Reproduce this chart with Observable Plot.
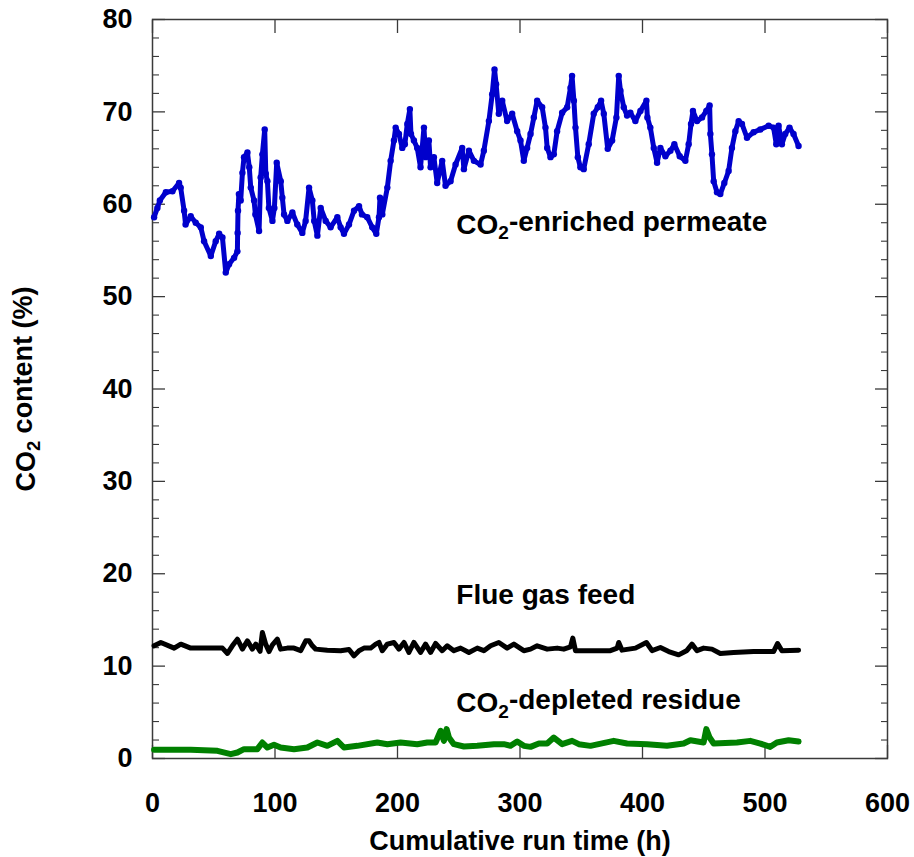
<!DOCTYPE html>
<html>
<head>
<meta charset="utf-8">
<script src="https://cdn.jsdelivr.net/npm/d3@7"></script>
<script src="https://cdn.jsdelivr.net/npm/@observablehq/plot@0.6"></script>
<style>
  html, body { margin: 0; padding: 0; background: #fff; }
  svg { display: block; }
</style>
</head>
<body>
<div id="chart"></div>
<script>
// ---- Data ----
// CO2-enriched permeate (blue dots)
const permX = [1.3,4,6,10.9,16.3,21.7,23,25.8,27,31.2,35.3,39.4,42.1,47.6,51.6,54.4,57.1,59.8,62.5,66.6,69.3,69.5,69.8,70.5,72,73.4,74.7,77.5,79,80.2,82.9,84,87,88.3,89.7,91.6,92.5,93.8,95,97.9,99.5,101.4,104.7,106,107.4,110.1,114.2,118.2,122.3,125,127.8,130.5,132,134.6,137.3,141.4,145.4,150.9,153.6,156.3,160.4,164.5,168.6,171,175.3,179.4,182.7,184.9,185.7,187.6,191.7,194.4,197.1,198.5,201.2,203.9,206,208,210.1,211,213.4,216.1,218.8,221.6,223,225.6,227,229.7,232.4,236.5,239.2,243.3,247.4,252.8,254.2,258.3,262.4,267.8,270.5,274.6,277.3,279.2,280.5,282.7,285.5,289.5,293.6,297.7,300.4,303.1,305.8,308.6,311.3,314,318.1,320.8,322.2,324.9,327.6,330.3,334.4,338.5,341.2,342.5,344,345.3,347.2,349.3,352,356.1,360.2,363.5,366.2,368.4,371.6,375.2,378.7,380.6,382,384.7,387.4,390.1,394.2,398.3,403.2,404,406.4,409.2,411.9,414.6,418.7,422.8,426,430.4,435,437.7,439.6,441.2,444.5,448.6,452.1,454.8,455.4,456.7,458.1,460.8,463.5,466.8,470.3,473,475.8,478.5,481.2,485.3,490.7,496.2,503,507,509.2,511.1,513.8,516.5,520,523.3,527.4];
const permY = [58.6,59.6,60.4,61.3,61.4,62.3,61.8,59.3,57.8,58.7,58.0,57.5,56.0,54.4,56.0,56.8,56.4,52.6,53.5,54.2,54.9,56.9,59.3,61.1,60.4,63.4,65.1,65.6,64.0,61.8,60.4,58.9,57.1,62.9,65.4,68.1,63.3,62.5,59.6,58.2,59.6,64.5,62.5,60.7,58.9,58.2,59.1,57.8,56.9,58.2,61.8,60.4,58.2,56.6,59.6,58.2,57.5,58.6,57.5,56.8,57.8,59.3,59.8,58.9,58.6,57.5,56.8,58.6,60.7,58.9,61.8,64.7,66.9,68.3,67.6,66.1,66.5,68.7,70.3,67.6,66.9,66.1,64.0,68.3,65.1,66.9,64.0,65.1,62.3,64.7,62.0,62.5,64.3,66.1,63.8,65.8,64.7,64.3,65.8,69.0,71.9,74.6,73.0,69.8,71.2,69.0,69.8,67.9,66.9,64.7,66.1,67.6,69.4,71.2,70.5,68.3,66.1,65.1,65.4,67.9,69.9,70.5,72.6,73.9,71.2,68.3,65.1,64.0,63.8,66.5,69.8,70.5,71.2,69.8,66.0,66.9,69.4,73.9,72.3,70.5,69.6,69.9,69.0,70.1,71.2,69.4,68.3,66.1,64.5,66.1,65.2,65.8,66.5,65.2,64.7,66.5,68.7,70.1,69.0,69.4,70.1,70.7,67.6,65.4,62.5,61.3,61.1,62.3,63.6,66.1,67.9,69.0,68.7,67.2,67.8,68.1,68.5,68.3,66.5,68.5,66.5,67.6,68.3,67.6,66.3];

// Flue gas feed (black)
const flueX = [1.3,6.8,17.7,23.1,31.2,44.8,57.1,61.2,65.2,69.3,73.4,77.5,81.5,84.3,87.8,89.7,92.4,95.1,97.9,101.9,104.6,110.1,115.5,121.0,125.1,127.8,130.5,133.2,142.7,153.6,160.4,164.5,168.6,172.6,178.1,182.2,184.9,187.6,191.7,197.1,201.2,205.3,209.3,213.4,218.8,222.9,227.0,231.1,236.5,240.6,246.0,251.5,258.3,265.1,270.5,276.0,282.7,289.5,295.0,303.1,308.6,314,322.2,330.3,335.7,341.2,343.1,345.3,354.8,365.7,373.8,379.3,380.6,383.3,394.2,403.2,407.8,414.6,421.4,429.5,436.3,440.4,444.5,449.9,456.7,463.5,474.4,490.7,507.0,510.3,513.8,527.4];
const flueY = [12.2,12.56,11.95,12.38,11.95,11.95,11.95,11.37,12.2,12.92,11.84,12.74,11.84,12.38,11.6,13.64,12.38,11.58,12.3,12.92,11.84,11.95,11.95,11.67,12.74,12.74,12.2,11.84,11.73,11.67,11.8,11.11,11.67,11.95,11.95,12.38,12.56,11.67,12.38,12.56,11.84,12.56,11.48,12.56,11.48,12.38,11.48,12.45,11.67,12.2,11.67,11.95,11.48,11.95,11.67,12.2,12.56,11.95,12.38,11.67,11.84,12.2,11.84,11.95,11.84,12.09,13.03,11.67,11.67,11.67,11.67,11.95,12.56,11.73,11.95,12.56,11.67,12.02,11.58,11.22,11.7,12.38,11.67,11.95,11.84,11.37,11.48,11.58,11.58,12.45,11.67,11.73];

// CO2-depleted residue (green)
const resX = [1.3,31.2,53,63.9,69.3,74.7,85.6,89.7,93.8,99.2,104.6,115.5,126.4,134.6,142.7,150.9,156.3,167.2,183.5,191.7,202.5,216.1,224.3,231.1,235.2,237.9,240.1,242,246,254.2,265.1,278.7,286.8,292.3,297.7,303.1,308.6,315.4,322.2,327.6,334.4,342.5,348,357.5,376.5,387.4,403.7,420.0,433.6,439.1,449.9,452.1,454.8,458.1,477.1,488,496.2,504.3,509.7,519.3,527.4];
const resY = [0.94,0.94,0.83,0.47,0.65,1.01,1.01,1.73,1.19,1.48,1.19,1.01,1.19,1.73,1.37,1.91,1.19,1.37,1.73,1.55,1.73,1.55,1.73,1.73,3.0,1.91,3.18,2.27,1.55,1.30,1.37,1.55,1.55,1.37,1.84,1.37,1.26,1.62,1.62,2.27,1.55,1.91,1.55,1.37,1.91,1.62,1.55,1.37,1.62,1.98,1.73,3.18,2.27,1.62,1.73,1.91,1.62,1.26,1.73,1.98,1.84];

// Axis ticks
const xTicks = [0, 100, 200, 300, 400, 500, 600];
const yTicks = [0, 10, 20, 30, 40, 50, 60, 70, 80];
const yMinorTicks = d3.range(0, 81, 2).filter(v => v % 10 !== 0);

// Series labels
const labelText = ["CO2-enriched permeate", "Flue gas feed", "CO2-depleted residue"];
const labelX = [248, 248, 248];
const labelY = [57.8, 17.7, 6.0];

const perm = permX.map((x, i) => ({x, y: permY[i]}));
const flue = flueX.map((x, i) => ({x, y: flueY[i]}));
const res = resX.map((x, i) => ({x, y: resY[i]}));
const labels = labelText.map((t, i) => ({t, x: labelX[i], y: labelY[i]}));

const frameColor = "#3a3a3a";

const chart = Plot.plot({
  width: 914,
  height: 857,
  marginLeft: 152,
  marginRight: 27,
  marginTop: 19,
  marginBottom: 99,
  style: {fontFamily: "'Liberation Sans', Arial, sans-serif", fontWeight: "bold", fontSize: "27px", background: "#fff", color: "#000"},
  x: {domain: [0, 600]},
  y: {domain: [0, 80]},
  marks: [
    Plot.frame({stroke: frameColor, strokeWidth: 1.5}),
    // tick labels
    Plot.axisX({ticks: xTicks, tickSize: 0, tickPadding: 34, fontSize: 27, label: "Cumulative run time (h)", labelAnchor: "center", labelArrow: "none", labelOffset: 91}),
    Plot.axisY({ticks: yTicks, tickSize: 0, tickPadding: 20, fontSize: 27, label: "CO2 content (%)", labelAnchor: "center", labelArrow: "none", labelOffset: 137}),
    // inward ticks
    Plot.axisX({anchor: "bottom", ticks: xTicks, tickSize: -13, tickFormat: () => "", label: null, stroke: frameColor, strokeWidth: 1.3}),
    Plot.axisX({anchor: "top", ticks: xTicks, tickSize: -13, tickFormat: () => "", label: null, stroke: frameColor, strokeWidth: 1.3}),
    Plot.axisY({anchor: "left", ticks: yTicks, tickSize: -13, tickFormat: () => "", label: null, stroke: frameColor, strokeWidth: 1.3}),
    Plot.axisY({anchor: "right", ticks: yTicks, tickSize: -13, tickFormat: () => "", label: null, stroke: frameColor, strokeWidth: 1.3}),
    Plot.axisY({anchor: "left", ticks: yMinorTicks, tickSize: -7, tickFormat: () => "", label: null, stroke: frameColor, strokeWidth: 1.1}),
    Plot.axisY({anchor: "right", ticks: yMinorTicks, tickSize: -7, tickFormat: () => "", label: null, stroke: frameColor, strokeWidth: 1.1}),
    // data
    Plot.line(res, {x: "x", y: "y", stroke: "#008000", strokeWidth: 6, strokeLinejoin: "round"}),
    Plot.line(flue, {x: "x", y: "y", stroke: "#000", strokeWidth: 5, strokeLinejoin: "round"}),
    Plot.line(perm, {x: "x", y: "y", stroke: "#0000cc", strokeWidth: 5, strokeLinejoin: "round"}),
    Plot.dot(perm, {x: "x", y: "y", r: 3.2, fill: "#0000cc", stroke: null}),
    // labels
    Plot.text(labels, {x: "x", y: "y", text: "t", textAnchor: "start", fontSize: 28, fill: "#000"})
  ]
});

// render "CO2" with a subscript 2
d3.select(chart).selectAll("text").each(function() {
  const el = d3.select(this);
  if (this.querySelector("tspan")) {
    d3.select(this).selectAll("tspan").each(function() { sub(d3.select(this)); });
  } else sub(el);
});
function sub(el) {
  const s = el.text();
  if (!s.startsWith("CO2")) return;
  const rest = s.slice(3);
  el.text(null);
  el.append("tspan").text("CO");
  el.append("tspan").attr("dy", "0.3em").attr("font-size", "0.68em").text("2");
  el.append("tspan").attr("dy", "-0.3em").text(rest);
}

document.getElementById("chart").appendChild(chart);
</script>
</body>
</html>
